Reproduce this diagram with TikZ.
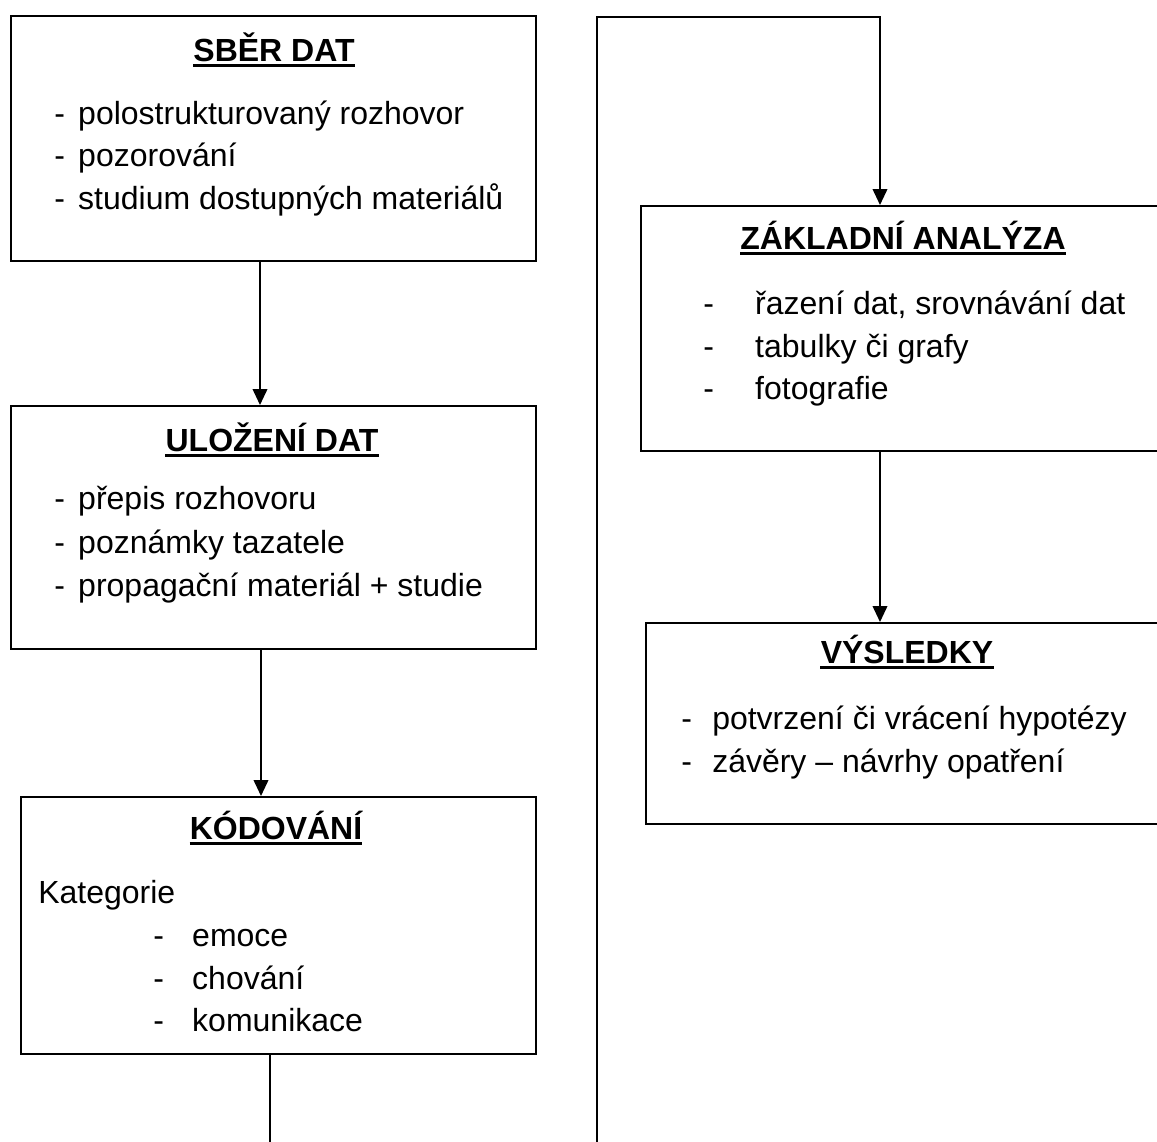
\documentclass[tikz,border=0pt]{standalone}
\usepackage{fontspec}
\setmainfont{Liberation Sans}
\usetikzlibrary{arrows.meta}
\newcommand{\dashitem}[2]{\makebox[#1][l]{-}#2}
\begin{document}
\begin{tikzpicture}[x=0.75pt,y=-0.75pt,
  box/.style={draw, line width=1.4pt, inner sep=0pt, anchor=north west},
  txt/.style={inner sep=0pt, anchor=base west, font=\fontsize{24pt}{32pt}\selectfont},
  ttl/.style={inner sep=0pt, anchor=base, font=\fontsize{24pt}{32pt}\selectfont\bfseries},
  uline/.style={line width=2.3pt},
  conn/.style={line width=1.3pt},
  arr/.style={conn, -{Triangle[length=12pt,width=11pt]}}]
\useasboundingbox (0,0) rectangle (1157,1142);
\clip (0,0) rectangle (1157,1142);
\fill[white] (0,0) rectangle (1157,1142);

% boxes
\node[box, minimum width=393.75pt, minimum height=183.75pt] (b1) at (10,15) {};
\node[box, minimum width=393.75pt, minimum height=182.25pt] (b2) at (10,405) {};
\node[box, minimum width=386.25pt, minimum height=192.75pt] (b3) at (20,796) {};
\node[box, minimum width=401.25pt, minimum height=183.75pt] (b4) at (640,205) {};
\node[box, minimum width=397.5pt, minimum height=150.75pt] (b5) at (645,622) {};

% box 1
\node[ttl] (t1) at (274,61) {SBĚR DAT};
\draw[uline] ([yshift=-3.5pt]t1.base west) -- ([yshift=-3.5pt]t1.base east);
\node[txt] (i11) at (54,124) {\dashitem{18pt}{polostrukturovaný rozhovor}};
\node[txt] (i12) at (54,166) {\dashitem{18pt}{pozorování}};
\node[txt] (i13) at (54,209) {\dashitem{18pt}{studium dostupných materiálů}};

% box 2
\node[ttl] (t2) at (272,451) {ULOŽENÍ DAT};
\draw[uline] ([yshift=-3.5pt]t2.base west) -- ([yshift=-3.5pt]t2.base east);
\node[txt] (i21) at (54,509) {\dashitem{18pt}{přepis rozhovoru}};
\node[txt] (i22) at (54,553) {\dashitem{18pt}{poznámky tazatele}};
\node[txt] (i23) at (54,596) {\dashitem{18pt}{propagační materiál + studie}};

% box 3
\node[ttl] (t3) at (276,839) {KÓDOVÁNÍ};
\draw[uline] ([yshift=-3.5pt]t3.base west) -- ([yshift=-3.5pt]t3.base east);
\node[txt] (k0) at (38,903) {Kategorie};
\node[txt] (i31) at (153,946) {\dashitem{29.25pt}{emoce}};
\node[txt] (i32) at (153,989) {\dashitem{29.25pt}{chování}};
\node[txt] (i33) at (153,1031) {\dashitem{29.25pt}{komunikace}};

% box 4
\node[ttl] (t4) at (903,249) {ZÁKLADNÍ ANALÝZA};
\draw[uline] ([yshift=-3.5pt]t4.base west) -- ([yshift=-3.5pt]t4.base east);
\node[txt] (i41) at (703,314) {\dashitem{39pt}{řazení dat, srovnávání dat}};
\node[txt] (i42) at (703,357) {\dashitem{39pt}{tabulky či grafy}};
\node[txt] (i43) at (703,399) {\dashitem{39pt}{fotografie}};

% box 5
\node[ttl] (t5) at (907,663) {VÝSLEDKY};
\draw[uline] ([yshift=-3.5pt]t5.base west) -- ([yshift=-3.5pt]t5.base east);
\node[txt] (i51) at (681,729) {\dashitem{23.25pt}{potvrzení či vrácení hypotézy}};
\node[txt] (i52) at (681,772) {\dashitem{23.25pt}{závěry – návrhy opatření}};

% connectors
\coordinate (c1) at (260,0);
\coordinate (c2) at (261,0);
\coordinate (c3) at (270,1160);
\coordinate (l1) at (597,1160);
\coordinate (l2) at (597,17);
\coordinate (l3) at (880,17);
\coordinate (c5) at (880,0);
\draw[arr] (b1.south -| c1) -- (b2.north -| c1);
\draw[arr] (b2.south -| c2) -- (b3.north -| c2);
\draw[conn] (b3.south -| c3) -- (c3);
\draw[arr] (l1) -- (l2) -- (l3) -- (b4.north -| l3);
\draw[arr] (b4.south -| c5) -- (b5.north -| c5);
\end{tikzpicture}
\end{document}
